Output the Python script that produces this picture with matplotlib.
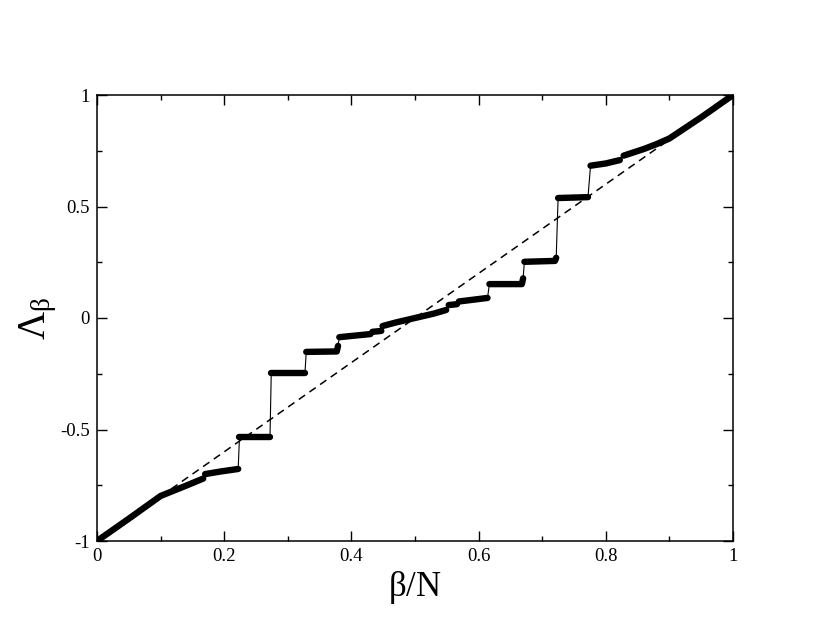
import matplotlib
matplotlib.use("Agg")
import matplotlib.pyplot as plt
from matplotlib.ticker import MultipleLocator

plt.rcParams['font.family'] = ['Liberation Serif', 'DejaVu Serif']
plt.rcParams['mathtext.fontset'] = 'custom'
plt.rcParams['mathtext.rm'] = 'Liberation Serif'
plt.rcParams['mathtext.it'] = 'Liberation Serif'
plt.rcParams['axes.unicode_minus'] = False

# plateaus / smooth pieces of Lambda_beta vs beta/N
seg_x = [
    [0.0, 0.05, 0.1, 0.12, 0.14, 0.167],
    [0.17, 0.195, 0.222],
    [0.224, 0.272],
    [0.274, 0.327],
    [0.329, 0.377, 0.379],
    [0.381, 0.43],
    [0.433, 0.447],
    [0.449, 0.47, 0.5, 0.53, 0.549],
    [0.553, 0.566],
    [0.569, 0.614],
    [0.617, 0.668, 0.670],
    [0.672, 0.720, 0.722],
    [0.725, 0.772],
    [0.776, 0.800, 0.822],
    [0.828, 0.86, 0.88, 0.9, 0.95, 1.0],
]
seg_y = [
    [-1.0, -0.9, -0.798, -0.775, -0.752, -0.720],
    [-0.700, -0.688, -0.677],
    [-0.535, -0.535],
    [-0.245, -0.245],
    [-0.152, -0.150, -0.125],
    [-0.086, -0.072],
    [-0.062, -0.058],
    [-0.036, -0.02, 0.0, 0.02, 0.036],
    [0.058, 0.062],
    [0.074, 0.090],
    [0.152, 0.152, 0.178],
    [0.252, 0.256, 0.270],
    [0.538, 0.542],
    [0.683, 0.693, 0.708],
    [0.728, 0.758, 0.780, 0.805, 0.9, 1.0],
]

# reference diagonal
diag_x = [0.1, 0.9]
diag_y = [-0.8, 0.8]

fig = plt.figure(figsize=(8.22, 6.35), dpi=100)
ax = fig.add_axes([97 / 822, 1 - 541 / 635, 636 / 822, 446 / 635])

all_x = [v for s in seg_x for v in s]
all_y = [v for s in seg_y for v in s]
ax.plot(all_x, all_y, color='black', lw=0.8, zorder=2)
for sx, sy in zip(seg_x, seg_y):
    ax.plot(sx, sy, color='black', lw=4.6, solid_capstyle='round',
            solid_joinstyle='round', zorder=3)

ax.plot(diag_x, diag_y, color='black', lw=1.1, linestyle=(0, (5, 3.5)), zorder=4)

ax.set_xlim(0, 1)
ax.set_ylim(-1, 1)
ax.xaxis.set_minor_locator(MultipleLocator(0.1))
ax.yaxis.set_minor_locator(MultipleLocator(0.25))
ax.set_xticks([0, 0.2, 0.4, 0.6, 0.8, 1])
ax.set_xticklabels(['0', '0.2', '0.4', '0.6', '0.8', '1'])
ax.set_yticks([-1, -0.5, 0, 0.5, 1])
ax.set_yticklabels(['-1', '-0.5', '0', '0.5', '1'])
ax.tick_params(which='both', direction='in', top=True, right=True,
               labelsize=13.5, width=1)
ax.tick_params(which='major', length=7, pad=5)
ax.tick_params(which='minor', length=3.5)
for sp in ax.spines.values():
    sp.set_linewidth(1.1)

ax.set_xlabel(r'$\beta$/N', fontsize=25, labelpad=3)
ax.set_ylabel(r'$\Lambda_\beta$', fontsize=28)
ax.yaxis.set_label_coords(-0.06, 0.5)

fig.savefig('out.png', dpi=100)
